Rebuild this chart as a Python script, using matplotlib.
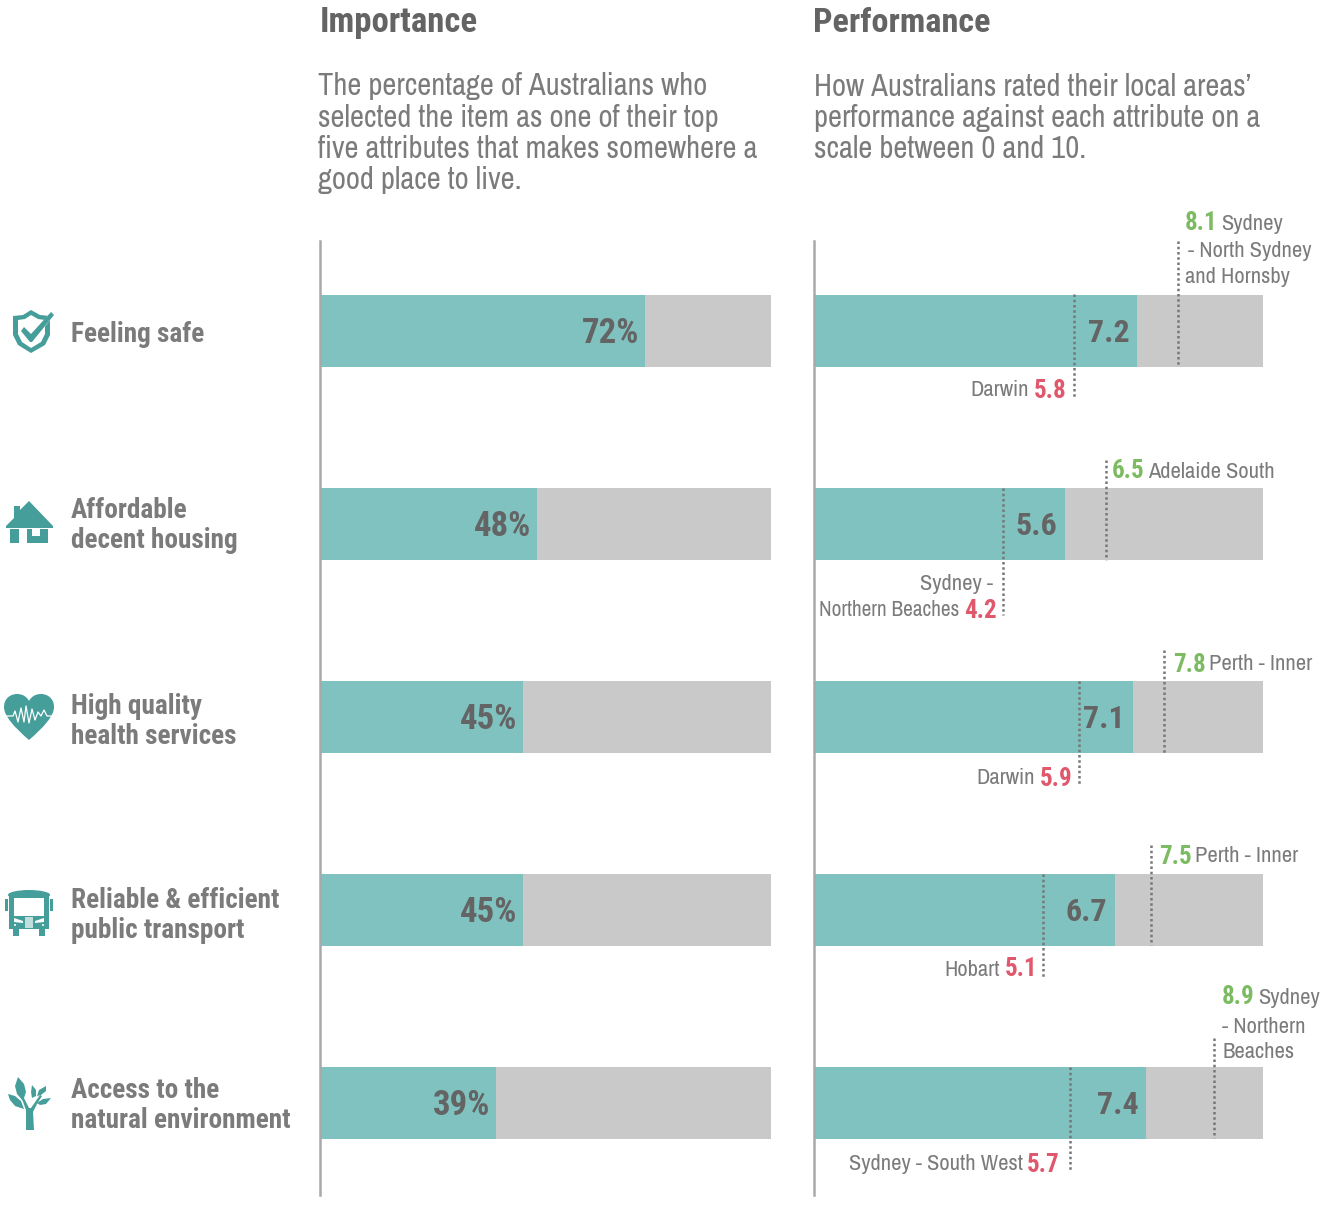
#!/usr/bin/env python3
"""Importance vs performance of local area attributes, two panels of bars."""

import matplotlib
matplotlib.use('Agg')
import matplotlib.pyplot as plt
from matplotlib.patches import Circle, Ellipse, PathPatch, Polygon, Rectangle
from matplotlib.path import Path

REGULAR = ['Archivo Narrow', 'Lato', 'DejaVu Sans']
BOLD = ['Roboto Condensed', 'Lato', 'DejaVu Sans']

W, H = 1327, 1218

TEAL = '#7fc2c0'
GREY = '#c9c9c9'
RULE = '#a9a9a9'
TEXT = '#7b7b7b'
DARK = '#646464'
GREEN = '#7dbb62'
RED = '#e0586c'
ICON = '#459e9a'
DOTS = '#777777'

categories = [
    'Feeling safe',
    'Affordable\ndecent housing',
    'High quality\nhealth services',
    'Reliable & efficient\npublic transport',
    'Access to the\nnatural environment',
]
importance = [72, 48, 45, 45, 39]
performance = [7.2, 5.6, 7.1, 6.7, 7.4]
high_values = [8.1, 6.5, 7.8, 7.5, 8.9]
low_values = [5.8, 4.2, 5.9, 5.1, 5.7]
importance_max = 100
performance_max = 10

# row centres and how far the dotted lines run, in pixels
ROW_Y = [331, 524, 717, 910, 1103]
HIGH_SPAN = [(241, 366), (460, 560), (650, 753), (845, 945), (1038, 1138)]
LOW_SPAN = [(294, 397), (488, 615), (681, 786), (874, 977), (1067, 1171)]
BAR_H = 72


def panel(x0, x1, xmax):
    """Axes whose y runs in image pixels, x in the panel's own units."""
    ax = fig.add_axes([x0 / W, 1 - 1195 / H, (x1 - x0) / W, (1195 - 241) / H])
    ax.set_xlim(0, xmax)
    ax.set_ylim(1195, 241)
    ax.patch.set_alpha(0)
    for s in ['top', 'right', 'bottom']:
        ax.spines[s].set_visible(False)
    ax.spines['left'].set_color(RULE)
    ax.spines['left'].set_linewidth(1.8)
    ax.set_xticks([])
    ax.set_yticks([])
    return ax


def bars(ax, values, xmax, labels, size, pad):
    ax.barh(ROW_Y, [xmax] * 5, height=BAR_H, color=GREY, linewidth=0, zorder=1)
    ax.barh(ROW_Y, values, height=BAR_H, color=TEAL, linewidth=0, zorder=2)
    for v, y, lab in zip(values, ROW_Y, labels):
        ax.annotate(lab, (v, y - 1), xytext=(-pad, 0), textcoords='offset points',
                    ha='right', va='center_baseline', fontsize=size, family=BOLD,
                    fontweight='bold', color=DARK, zorder=5)


def t(x, y, s, size=16.2, color=TEXT, bold=False, ha='left'):
    over.text(x, y, s, fontsize=size, color=color, ha=ha, va='center_baseline',
              family=BOLD if bold else REGULAR,
              fontweight='bold' if bold else 'normal')


def shape(points, color=ICON):
    over.add_patch(Polygon(points, closed=True, fc=color, ec='none'))


def draw_icons():
    # shield with tick
    shape([(31, 310), (40, 315), (50, 316), (50, 335), (45, 345), (31, 353),
           (18, 345), (13, 335), (13, 316), (23, 315)])
    shape([(31, 315), (38, 319), (45, 320), (45, 334), (41, 342), (31, 348),
           (22, 342), (18, 334), (18, 320), (25, 319)], 'white')
    shape([(23, 331), (31, 339), (50, 312), (54, 315), (32, 343), (30, 343), (21, 333)],
          'white')
    shape([(24, 327), (31, 334), (51, 312), (54, 315), (32, 342), (30, 342), (21, 331)])

    # house
    shape([(29, 501), (53, 526), (53, 528), (6, 528), (6, 526), (14, 518),
           (14, 506), (20, 506), (20, 510)])
    over.add_patch(Rectangle((10, 529), 38, 14, fc=ICON, ec='none'))
    over.add_patch(Rectangle((18.5, 528), 8.5, 16, fc='white', ec='none'))
    over.add_patch(Rectangle((32, 528), 8, 8, fc='white', ec='none'))

    # heart with pulse line
    heart = Path([(29, 740), (14, 727), (4, 716), (4, 707), (4, 698), (11, 694),
                  (17, 694), (23, 694), (27, 697), (29, 701), (31, 697), (35, 694),
                  (41, 694), (47, 694), (54, 698), (54, 707), (54, 716), (44, 727),
                  (29, 740)],
                 [Path.MOVETO] + [Path.CURVE4] * 18)
    over.add_patch(PathPatch(heart, fc=ICON, ec='none'))
    over.plot([5, 13, 15, 18, 21, 24, 26, 29, 32, 35, 38, 41, 44, 47, 53],
              [716, 716, 711, 722, 708, 722, 706, 723, 709, 720, 712, 716, 710, 716, 716],
              color='white', lw=0.9)

    # bus
    over.add_patch(Rectangle((9, 893), 40, 36, fc=ICON, ec='none'))
    over.add_patch(Ellipse((29, 895), 42, 10, fc=ICON, ec='none'))
    over.add_patch(Rectangle((14, 898), 30, 18, fc='white', ec='none'))
    over.add_patch(Rectangle((5, 899), 3, 12, fc=ICON, ec='none'))
    over.add_patch(Rectangle((50, 899), 3, 12, fc=ICON, ec='none'))
    over.add_patch(Rectangle((13, 928), 6, 8, fc=ICON, ec='none'))
    over.add_patch(Rectangle((39, 928), 6, 8, fc=ICON, ec='none'))
    over.add_patch(Rectangle((25, 917), 8, 11, fc='#bfe0de', ec='none'))
    shape([(14, 918), (23, 921), (23, 923), (14, 922)], 'white')
    shape([(44, 918), (35, 921), (35, 923), (44, 922)], 'white')
    over.add_patch(Circle((15, 925), 1, fc='white', ec='none'))
    over.add_patch(Circle((43, 925), 1, fc='white', ec='none'))

    # tree
    shape([(26, 1130), (34, 1130), (33, 1112), (37, 1104), (42, 1096), (40, 1095),
           (31, 1108), (29, 1108), (24, 1098), (22, 1099), (26, 1110)])
    shape([(18, 1077), (24, 1084), (26, 1092), (23, 1101), (17, 1094), (15, 1086)])
    shape([(8, 1094), (15, 1096), (21, 1101), (24, 1109), (15, 1106), (10, 1100)])
    shape([(32, 1085), (36, 1090), (36, 1096), (32, 1098), (31, 1092)])
    shape([(46, 1086), (46, 1091), (41, 1095), (37, 1096), (39, 1090)])
    shape([(51, 1098), (46, 1104), (40, 1105), (37, 1103), (43, 1099)])


fig = plt.figure(figsize=(W / 100, H / 100), dpi=100)

over = fig.add_axes([0, 0, 1, 1], zorder=10)
over.set_xlim(0, W)
over.set_ylim(H, 0)
over.axis('off')

left = panel(320.4, 771.4, importance_max)
right = panel(813.7, 1263.3, performance_max)

bars(left, importance, importance_max, [f'{v}%' for v in importance], 25, 4.3)
bars(right, performance, performance_max, [f'{v:.1f}' for v in performance], 23, 5.8)

for v, (y0, y1) in zip(high_values, HIGH_SPAN):
    right.plot([v, v], [y0, y1], color=DOTS, lw=1.8, ls=(0, (1, 1.1)), zorder=4)
for v, (y0, y1) in zip(low_values, LOW_SPAN):
    right.plot([v, v], [y0, y1], color=DOTS, lw=1.8, ls=(0, (1, 1.1)), zorder=4)

# panel headings
t(320, 19, 'Importance', 25, DARK, True)
t(813, 19, 'Performance', 24.7, DARK, True)
for y, line in zip([84, 115, 146.5, 177.5],
                   ['The percentage of Australians who',
                    'selected the item as one of their top',
                    'five attributes that makes somewhere a',
                    'good place to live.']):
    t(318, y, line, 22)
for y, line in zip([84, 115, 146.5],
                   ['How Australians rated their local areas’',
                    'performance against each attribute on a',
                    'scale between 0 and 10.']):
    t(814, y, line, 22)

# row labels
label_y = [[331], [508, 538], [704, 734], [897, 927], [1088, 1118]]
for cat, ys in zip(categories, label_y):
    for y, line in zip(ys, cat.split('\n')):
        t(71, y, line, 19.6, TEXT, True)

# best and worst regions
t(1185, 221, f'{high_values[0]}', 18, GREEN, True)
t(1221, 221.5, 'Sydney')
t(1188, 249, '- North Sydney')
t(1185, 275, 'and Hornsby')
t(1112, 469, f'{high_values[1]}', 18, GREEN, True)
t(1148, 469.5, 'Adelaide South')
t(1173, 662, f'{high_values[2]}', 18, GREEN, True)
t(1209, 662.5, 'Perth - Inner')
t(1159, 854, f'{high_values[3]}', 18, GREEN, True)
t(1195, 854.5, 'Perth - Inner')
t(1222, 995, f'{high_values[4]}', 18, GREEN, True)
t(1258, 995.5, 'Sydney')
t(1222, 1025, '- Northern')
t(1222, 1050, 'Beaches')

t(1029, 388.5, 'Darwin', ha='right')
t(1034, 388, f'{low_values[0]}', 18, RED, True)
t(993, 581.5, 'Sydney -', ha='right')
t(959, 608.5, 'Northern Beaches', 15.3, ha='right')
t(964, 608, f'{low_values[1]}', 18, RED, True)
t(1035, 776.5, 'Darwin', ha='right')
t(1040, 776, f'{low_values[2]}', 18, RED, True)
t(1000, 967.5, 'Hobart', ha='right')
t(1005, 967, f'{low_values[3]}', 18, RED, True)
t(1023, 1162.5, 'Sydney - South West', ha='right')
t(1027, 1162, f'{low_values[4]}', 18, RED, True)

draw_icons()

fig.savefig('out.png', dpi=100)
